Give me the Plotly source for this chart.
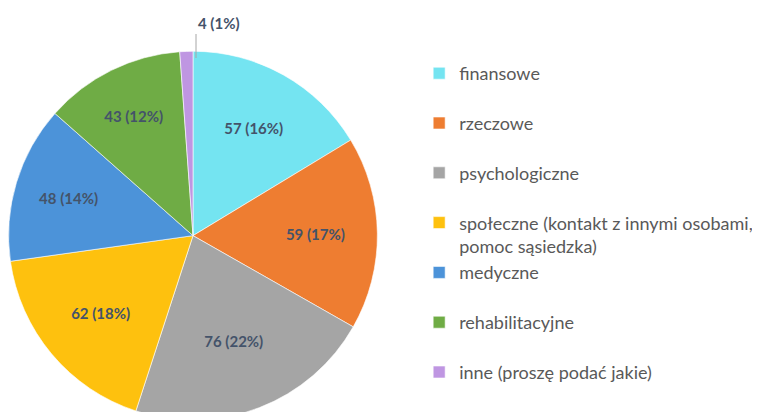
import plotly.graph_objects as go

categories = [
    "finansowe",
    "rzeczowe",
    "psychologiczne",
    "społeczne (kontakt z innymi osobami,<br>pomoc sąsiedzka)",
    "medyczne",
    "rehabilitacyjne",
    "inne (proszę podać jakie)",
]
counts = [57, 59, 76, 62, 48, 43, 4]
colors = ["#74E4F1", "#EE7D31", "#A5A5A5", "#FEC10E", "#4C93D9", "#6FAC45", "#BF96E2"]

_LABEL_COLOR = "#44536A"
_FONT = "Lato, 'Open Sans', sans-serif"

# two-line legend entries give the tall spacing of the original legend
legend_names = [c + ("" if "<br>" in c else "<br> ") for c in categories]

total = sum(counts)
small = counts[-1]

fig = go.Figure(go.Pie(
    labels=legend_names, values=counts, sort=False, direction="clockwise", rotation=0,
    marker=dict(colors=colors, line=dict(color="#ffffff", width=0.6)),
    texttemplate="<b>%{value} (%{percent:.0%})</b>",
    textposition=["inside"] * 6 + ["none"],
    insidetextorientation="horizontal",
    textfont=dict(family=_FONT, size=15, color=_LABEL_COLOR),
    domain=dict(x=[0, 370 / 760], y=[0, 0.895]),
    hoverinfo="label+value+percent",
))

# the tiny slice gets its label above the pie with a leader line
fig.add_annotation(
    xref="paper", yref="paper", x=188 / 760, y=1 - 50 / 412,
    ax=0, ay=-24, xanchor="left", yanchor="bottom",
    text=f"<b>{small} ({small / total:.0%})</b>",
    showarrow=True, arrowhead=0, arrowwidth=1, arrowcolor="#A6A6A6",
    font=dict(family=_FONT, size=15, color=_LABEL_COLOR),
)

fig.update_layout(
    width=760, height=412,
    paper_bgcolor="white", plot_bgcolor="white",
    margin=dict(l=0, r=0, t=0, b=0),
    font=dict(family=_FONT, color="#595959"),
    showlegend=True,
    legend=dict(
        x=0.541, y=1 - 47 / 412, xanchor="left", yanchor="top",
        font=dict(family=_FONT, size=18, color="#595959"),
        valign="top", bgcolor="rgba(0,0,0,0)",
    ),
)

fig.write_html("out.html")
